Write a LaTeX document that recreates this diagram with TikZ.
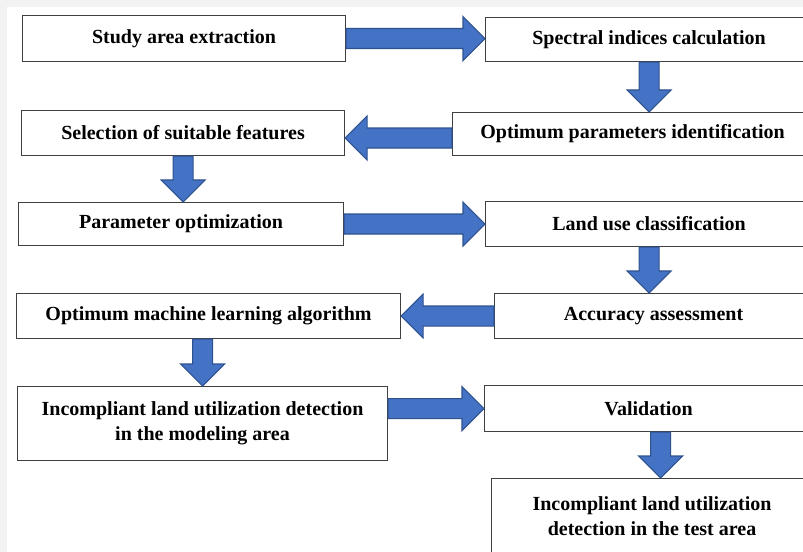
\documentclass[tikz,border=0pt]{standalone}
\usepackage{fontspec}
\setmainfont{Liberation Serif}
\usetikzlibrary{calc}
\definecolor{bggray}{HTML}{F2F2F2}
\definecolor{boxline}{HTML}{404040}
\definecolor{arrfill}{HTML}{4472C4}
\definecolor{arrline}{HTML}{2F528F}
\tikzset{
  box/.style={draw=boxline, line width=0.8pt, fill=white, anchor=north west,
    inner sep=0pt, align=center,
    font=\fontsize{15pt}{18.75pt}\selectfont\bfseries},
  blockarrow/.style={fill=arrfill, draw=arrline, line width=0.8pt, line join=miter}
}
\newcommand\blockarrow[2]{%
  \coordinate (ba-s) at (#1);
  \coordinate (ba-e) at (#2);
  \coordinate (ba-h) at ($(ba-e)!16.5pt!(ba-s)$);
  \draw[blockarrow] ($(ba-s)!7.5pt!90:(ba-e)$) -- ($(ba-h)!7.5pt!90:(ba-e)$)
    -- ($(ba-h)!16.5pt!90:(ba-e)$) -- (ba-e) -- ($(ba-h)!16.5pt!-90:(ba-e)$)
    -- ($(ba-h)!7.5pt!-90:(ba-e)$) -- ($(ba-s)!7.5pt!-90:(ba-e)$) -- cycle;
}
\begin{document}
\begin{tikzpicture}[x=0.75pt, y=-0.75pt]
\useasboundingbox (0,0) rectangle (803,552);
\clip (0,0) rectangle (803,552);
\fill[bggray] (0,0) rectangle (803,552);
\fill[white] (7,7) rectangle (803,552);

\node[box, minimum width=242.25pt, minimum height=34.5pt] (A) at (22,15) {Study area extraction};
\node[box, minimum width=245.25pt, minimum height=33pt] (B) at (485,17) {Spectral indices calculation};
\node[box, minimum width=270pt, minimum height=32.25pt] (C) at (452,112) {Optimum parameters identification};
\node[box, minimum width=242.25pt, minimum height=33.75pt] (D) at (21,110) {Selection of suitable features};
\node[box, minimum width=243.75pt, minimum height=32.25pt] (E) at (18,202) {Parameter optimization};
\node[box, minimum width=245.25pt, minimum height=33.75pt] (F) at (485,201) {Land use classification};
\node[box, minimum width=238.5pt, minimum height=33.75pt] (G) at (494,293) {Accuracy assessment};
\node[box, minimum width=288pt, minimum height=33.75pt] (H) at (16,293) {Optimum machine learning algorithm};
\node[box, minimum width=277.5pt, minimum height=55.5pt] (I) at (17,386) {Incompliant land utilization detection\\in the modeling area};
\node[box, minimum width=246pt, minimum height=34.5pt] (J) at (484,385) {Validation};
\node[box, minimum width=240.75pt, minimum height=57pt] (K) at (491,478) {Incompliant land utilization\\detection in the test area};

\blockarrow{A.east}{A.east -| B.west}
\blockarrow{B.south}{B.south |- C.north}
\blockarrow{[yshift=-3pt]C.west}{[yshift=-3pt]C.west -| D.east}
\blockarrow{D.south}{D.south |- E.north}
\blockarrow{E.east}{E.east -| F.west}
\blockarrow{F.south}{F.south |- G.north}
\blockarrow{G.west}{G.west -| H.east}
\blockarrow{I.north |- H.south}{I.north}
\blockarrow{I.east |- J.west}{J.west}
\blockarrow{[xshift=9pt]J.south}{[xshift=9pt]J.south |- K.north}
\end{tikzpicture}
\end{document}
